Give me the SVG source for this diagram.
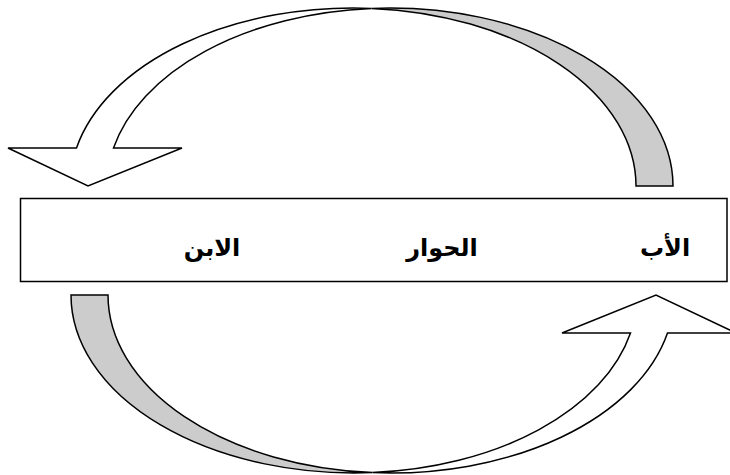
<svg xmlns="http://www.w3.org/2000/svg" xmlns:xlink="http://www.w3.org/1999/xlink" width="730" height="475" viewBox="0 0 730 475">
  <style>
    .face { fill: #ffffff; stroke: #000000; stroke-width: 1.5; stroke-linejoin: miter; }
    .back { fill: #cccccc; stroke: #000000; stroke-width: 1.5; }
    .box { fill: #ffffff; stroke: #000000; stroke-width: 1.5; }
    .lbl { font-family: "DejaVu Sans", "Liberation Serif", serif; font-weight: bold; font-size: 24px; fill: #000000; text-anchor: middle; }
  </style>
  <defs>
    <g id="curvedArrow">
      <path class="back" d="M 371.5,8.4 A 283 178 0 0 1 673,186 L 636,186 A 283 178 0 0 0 371.5,8.4 Z"/>
      <path class="face" d="M 8,148 L 76.5,148 A 283 178 0 0 1 371.5,8.4 A 283 178 0 0 0 113.5,148 L 182,148 L 88,186 Z"/>
    </g>
  </defs>
  <g id="connectors">
    <use id="arrow-top" xlink:href="#curvedArrow"/>
    <use id="arrow-bottom" xlink:href="#curvedArrow" transform="rotate(180 372 240.5)"/>
  </g>
  <g id="dialogue-bar">
    <rect class="box" x="20.5" y="198.5" width="706.5" height="83"/>
    <text id="lbl-son" class="lbl" x="212" y="256">الابن</text>
    <text id="lbl-dialogue" class="lbl" x="442" y="256">الحوار</text>
    <text id="lbl-father" class="lbl" x="665" y="256">الأب</text>
  </g>
</svg>
